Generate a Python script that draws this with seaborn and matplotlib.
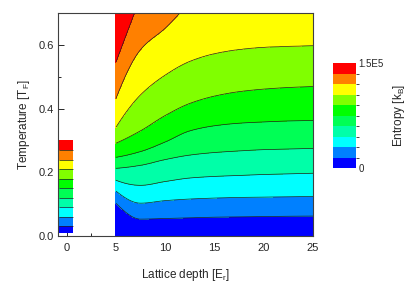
import numpy as np
import matplotlib
matplotlib.use("Agg")
import matplotlib.pyplot as plt
from matplotlib.colors import ListedColormap, BoundaryNorm
from matplotlib.ticker import MultipleLocator
import seaborn as sns

sns.set_style("ticks")
plt.rcParams['font.family'] = ['Liberation Sans', 'DejaVu Sans']
plt.rcParams['mathtext.fontset'] = 'custom'
plt.rcParams['mathtext.rm'] = 'Liberation Sans'

# ---- data ----
depth = [5, 7.5, 10, 12.5, 15, 17.5, 20, 22.5, 25]          # lattice depth [E_r]
levels = [0, 15000, 30000, 45000, 60000, 75000, 90000, 105000, 120000, 135000, 150000]
# temperature [T_F] at which entropy reaches each level (rows: levels 15000..150000)
T_15k = [0.103, 0.053, 0.055, 0.057, 0.059, 0.060, 0.061, 0.062, 0.0625]
T_30k = [0.141, 0.103, 0.111, 0.116, 0.119, 0.121, 0.122, 0.123, 0.124]
T_45k = [0.175, 0.159, 0.171, 0.182, 0.187, 0.190, 0.193, 0.195, 0.197]
T_60k = [0.2125, 0.222, 0.240, 0.254, 0.262, 0.267, 0.271, 0.273, 0.275]
T_75k = [0.247, 0.265, 0.295, 0.330, 0.346, 0.354, 0.358, 0.361, 0.3625]
T_90k = [0.291, 0.330, 0.378, 0.416, 0.439, 0.453, 0.461, 0.466, 0.469]
T_105k = [0.341, 0.443, 0.505, 0.548, 0.572, 0.585, 0.592, 0.595, 0.597]
T_120k = [0.431, 0.585, 0.652, 0.730, 0.790, 0.825, 0.840, 0.850, 0.850]
T_135k = [0.545, 0.750, 0.955, 1.100, 1.180, 1.220, 1.240, 1.250, 1.250]
T_150k = [0.900, 1.150, 1.300, 1.400, 1.450, 1.480, 1.500, 1.500, 1.500]

# harmonic trap (depth 0) strip
strip_depth = [-0.8, 0.6]
strip_T = [0.01, 0.30]
strip_S = [5000, 150000]

colors = ['#0000FF', '#0080FF', '#00FFFF', '#00FFA8', '#00FF55',
          '#00FF00', '#80FF00', '#FFFF00', '#FF8000', '#FF0000']


def pchip(x, y, xn):
    x = np.asarray(x, float); y = np.asarray(y, float)
    h = np.diff(x); d = np.diff(y) / h
    m = np.zeros_like(y)
    for k in range(1, len(x) - 1):
        if d[k - 1] * d[k] > 0:
            w1 = 2 * h[k] + h[k - 1]; w2 = h[k] + 2 * h[k - 1]
            m[k] = (w1 + w2) / (w1 / d[k - 1] + w2 / d[k])
    def endp(h0, h1, d0, d1):
        v = ((2 * h0 + h1) * d0 - h0 * d1) / (h0 + h1)
        if np.sign(v) != np.sign(d0):
            v = 0.0
        elif np.sign(d0) != np.sign(d1) and abs(v) > abs(3 * d0):
            v = 3 * d0
        return v
    m[0] = endp(h[0], h[1], d[0], d[1])
    m[-1] = endp(h[-1], h[-2], d[-1], d[-2])
    idx = np.clip(np.searchsorted(x, xn) - 1, 0, len(x) - 2)
    t = (xn - x[idx]) / h[idx]
    h00 = 2 * t**3 - 3 * t**2 + 1; h10 = t**3 - 2 * t**2 + t
    h01 = -2 * t**3 + 3 * t**2; h11 = t**3 - t**2
    return h00 * y[idx] + h10 * h[idx] * m[idx] + h01 * y[idx + 1] + h11 * h[idx] * m[idx + 1]


# ---- build fields ----
T_rows = [T_15k, T_30k, T_45k, T_60k, T_75k, T_90k, T_105k, T_120k, T_135k, T_150k]
xg = np.linspace(depth[0], depth[-1], 401)
T_fine = np.array([pchip(depth, row, xg) for row in T_rows])
T_fine = np.maximum.accumulate(T_fine, axis=0)
Tg = np.linspace(0, 0.7, 351)
S = np.zeros((len(Tg), len(xg)))
for j in range(len(xg)):
    tt = np.concatenate([[0.0], T_fine[:, j]])
    S[:, j] = np.interp(Tg, tt, levels)

Ts = np.linspace(strip_T[0], strip_T[1], 146)
Ss = np.interp(Ts, strip_T, strip_S)
Ss2 = np.column_stack([Ss, Ss])

cmap = ListedColormap(colors)
norm = BoundaryNorm(levels, cmap.N)

fig = plt.figure(figsize=(4.16, 2.84), dpi=100)
ax = fig.add_axes([58/416, 48/284, 255/416, 223/284])

cf = ax.contourf(xg, Tg, S, levels=levels, cmap=cmap, norm=norm)
ax.contour(xg, Tg, S, levels=levels[1:-1], colors='#202020', linewidths=0.5)
ax.contourf(strip_depth, Ts, Ss2, levels=levels, cmap=cmap, norm=norm)
ax.contour(strip_depth, Ts, Ss2, levels=levels[1:-1], colors='#202020', linewidths=0.5)

ax.set_xlim(-0.88, 25)
ax.set_ylim(0, 0.7)
ax.xaxis.set_major_locator(MultipleLocator(5))
ax.xaxis.set_minor_locator(MultipleLocator(2.5))
ax.yaxis.set_major_locator(MultipleLocator(0.2))
ax.yaxis.set_minor_locator(MultipleLocator(0.1))
ax.yaxis.set_major_formatter(matplotlib.ticker.FormatStrFormatter('%.1f'))
ax.tick_params(which='both', direction='in', top=False, right=False, labelsize=8, pad=3)
ax.tick_params(axis='x', which='both', pad=5)
ax.tick_params(which='major', length=4, width=0.7)
ax.tick_params(which='minor', length=2.5, width=0.7)
for sp in ax.spines.values():
    sp.set_linewidth(0.8)
    sp.set_color('#404040')
ax.set_xlabel('Lattice depth [E$_\\mathregular{r}$]', fontsize=8.5, labelpad=10)
ax.set_ylabel('Temperature [T$_\\mathregular{F}$]', fontsize=8.5, labelpad=5)

cax = fig.add_axes([333/416, 116/284, 23/416, 105/284])
cb = fig.colorbar(cf, cax=cax, ticks=[0, 150000])
cb.outline.set_visible(False)
cb.ax.set_yticklabels(['0', '1.5E5'])
cb.ax.tick_params(length=0, labelsize=7, pad=2)
cb.set_label('Entropy [k$_\\mathregular{B}$]', fontsize=8.5, labelpad=5)

fig.savefig('out.png', dpi=100)
